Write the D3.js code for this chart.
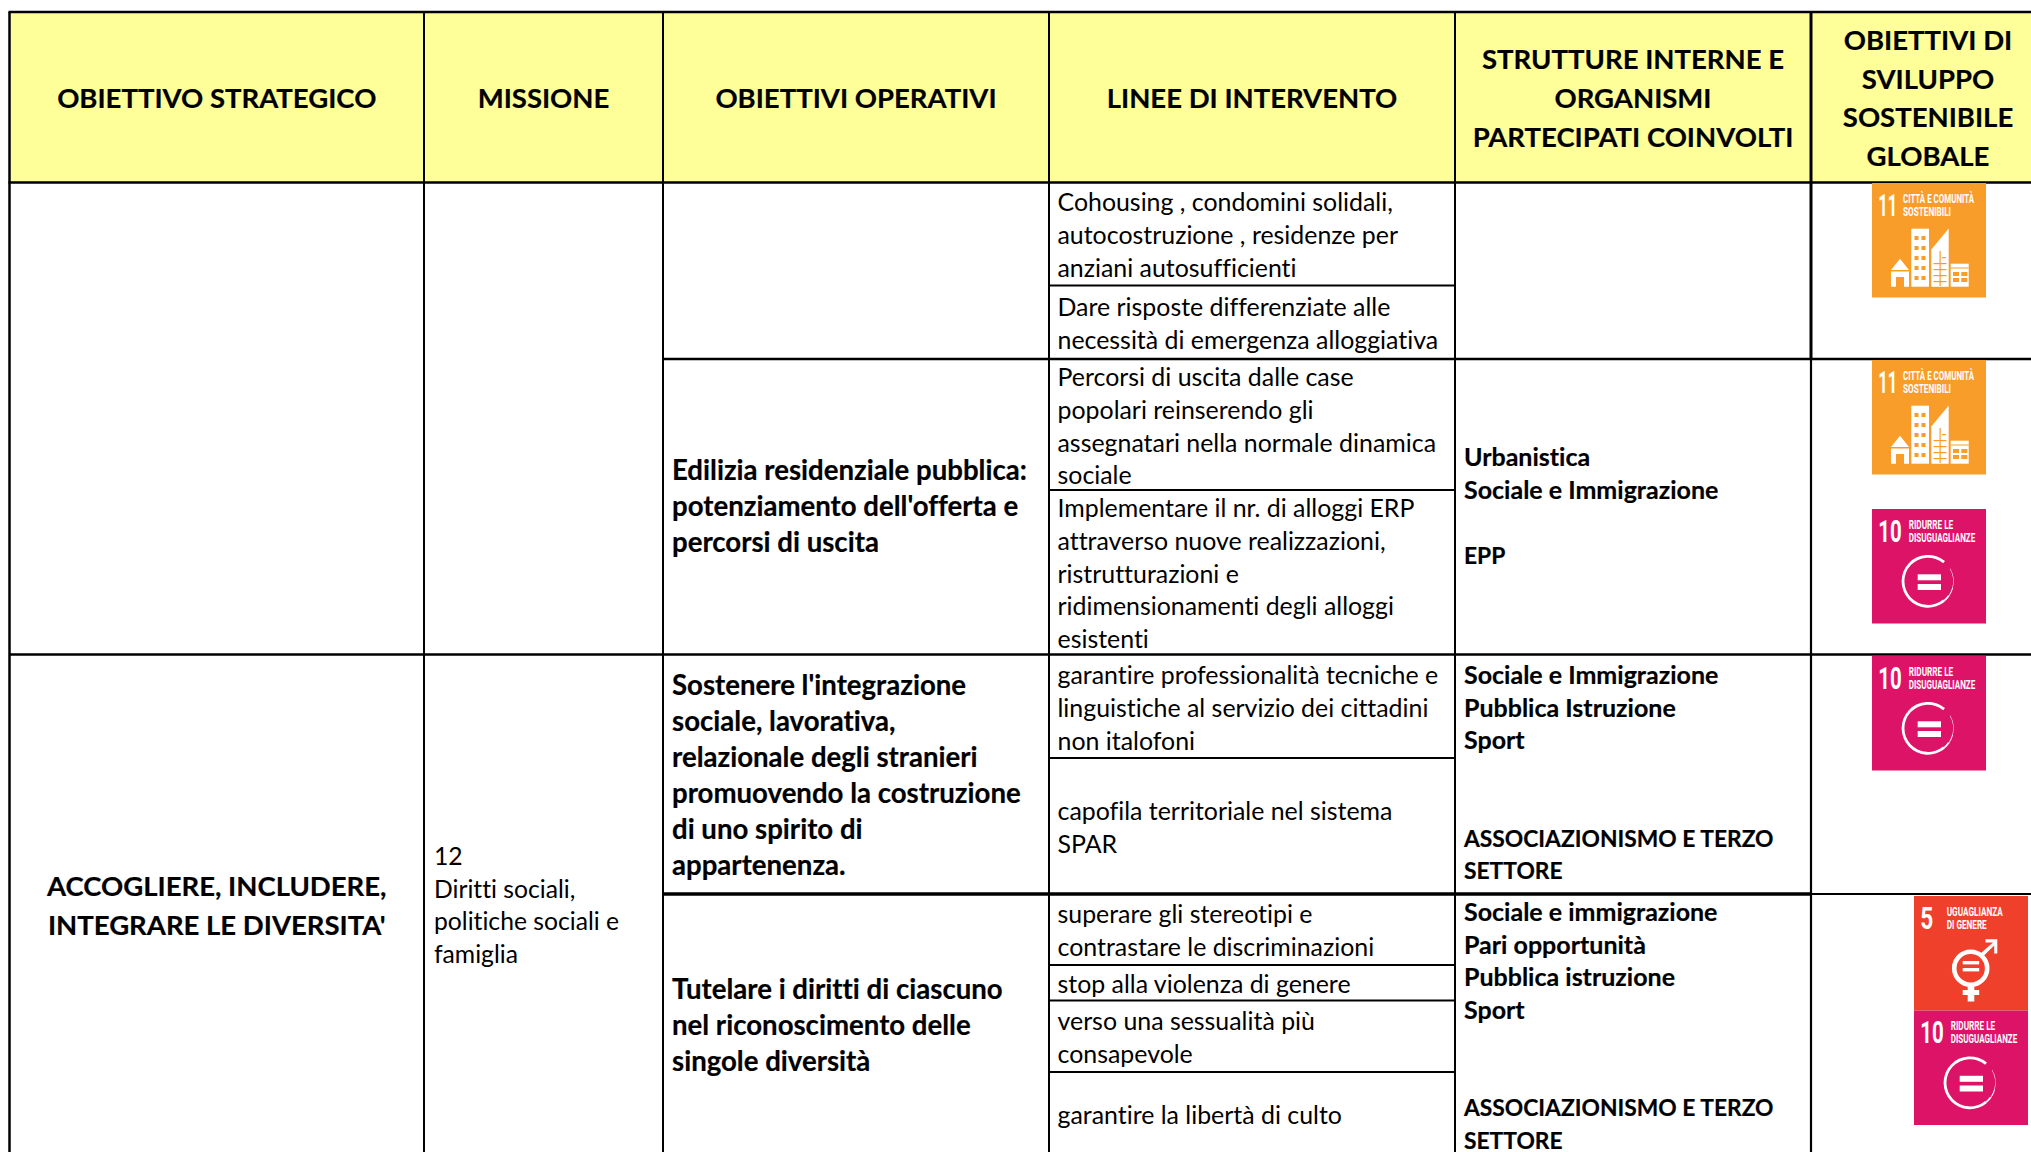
<!DOCTYPE html>
<html>
<head>
<meta charset="utf-8">
<script src="https://cdn.jsdelivr.net/npm/d3@7"></script>
<style>
html, body { margin: 0; padding: 0; background: #fff; overflow: hidden; }
svg { display: block; }
text { font-family: Lato, "Open Sans", sans-serif; fill: #000; font-variant-ligatures: none; }
.bold_text { stroke: #000; stroke-width: 0.2; }
.icon_text { font-family: Roboto, sans-serif; fill: #fff; font-weight: 700; stroke: none; }
</style>
</head>
<body>
<div class="chart_frame"></div>
<script>
// table content
var headers = [
    ['OBIETTIVO STRATEGICO'],
    ['MISSIONE'],
    ['OBIETTIVI OPERATIVI'],
    ['LINEE DI INTERVENTO'],
    ['STRUTTURE INTERNE E', 'ORGANISMI', 'PARTECIPATI COINVOLTI'],
    ['OBIETTIVI DI', 'SVILUPPO', 'SOSTENIBILE', 'GLOBALE']
];
var strategic_goal = ['ACCOGLIERE, INCLUDERE,', "INTEGRARE LE DIVERSITA'"];
var mission = ['12', 'Diritti sociali,', 'politiche sociali e', 'famiglia'];
var operative_goals = [
    ['Edilizia residenziale pubblica:', "potenziamento dell'offerta e", 'percorsi di uscita'],
    ["Sostenere l'integrazione", 'sociale, lavorativa,', 'relazionale degli stranieri', 'promuovendo la costruzione', 'di uno spirito di', 'appartenenza.'],
    ['Tutelare i diritti di ciascuno', 'nel riconoscimento delle', 'singole diversità']
];
var intervention_lines = [
    ['Cohousing , condomini solidali,', 'autocostruzione , residenze per', 'anziani autosufficienti'],
    ['Dare risposte differenziate alle', 'necessità di emergenza alloggiativa'],
    ['Percorsi di uscita dalle case', 'popolari reinserendo gli', 'assegnatari nella normale dinamica', 'sociale'],
    ['Implementare il nr. di alloggi ERP', 'attraverso nuove realizzazioni,', 'ristrutturazioni e', 'ridimensionamenti degli alloggi', 'esistenti'],
    ['garantire professionalità tecniche e', 'linguistiche al servizio dei cittadini', 'non italofoni'],
    ['capofila territoriale nel sistema', 'SPAR'],
    ['superare gli stereotipi e', 'contrastare le discriminazioni'],
    ['stop alla violenza di genere'],
    ['verso una sessualità più', 'consapevole'],
    ['garantire la libertà di culto']
];
var structures = [
    ['Urbanistica', 'Sociale e Immigrazione', '', 'EPP'],
    ['Sociale e Immigrazione', 'Pubblica Istruzione', 'Sport', '', '', 'ASSOCIAZIONISMO E TERZO', 'SETTORE'],
    ['Sociale e immigrazione', 'Pari opportunità', 'Pubblica istruzione', 'Sport', '', '', 'ASSOCIAZIONISMO E TERZO', 'SETTORE']
];
var sdg_goals = [
    {'goal': 11, 'number': '11', 'title': ['CITTÀ E COMUNITÀ', 'SOSTENIBILI']},
    {'goal': 11, 'number': '11', 'title': ['CITTÀ E COMUNITÀ', 'SOSTENIBILI']},
    {'goal': 10, 'number': '10', 'title': ['RIDURRE LE', 'DISUGUAGLIANZE']},
    {'goal': 10, 'number': '10', 'title': ['RIDURRE LE', 'DISUGUAGLIANZE']},
    {'goal': 5, 'number': '5', 'title': ['UGUAGLIANZA', 'DI GENERE']},
    {'goal': 10, 'number': '10', 'title': ['RIDURRE LE', 'DISUGUAGLIANZE']}
];

// page and grid layout, in pixels
var width = 2031, height = 1152;
var col_x = [9.5, 424, 663, 1049, 1455, 1811, 2045];
var header_y = [12, 182.5];
var row_y = [359, 654.5, 894];
var sub_row_y = [285.5, 490, 758, 965, 1000.5, 1072];

var color = {'header': '#ffff99', 'line': '#000', '11': '#f99d2a', '10': '#dd1367', '5': '#ef402b'};

var svg = d3.select('.chart_frame').append('svg')
    .attr('width', width)
    .attr('height', height);

// header background
svg.append('rect')
    .attr('x', col_x[0]).attr('y', header_y[0])
    .attr('width', width - col_x[0]).attr('height', header_y[1] - header_y[0])
    .attr('fill', color.header);

// grid lines: [x1, y1, x2, y2, stroke width]
var grid_lines = [
    [col_x[0] - 1, header_y[0], width, header_y[0], 2.5],
    [col_x[0] - 1, header_y[1], width, header_y[1], 2.5],
    [col_x[2], row_y[0], width, row_y[0], 2.5],
    [col_x[0], row_y[1], width, row_y[1], 2.5],
    [col_x[2], row_y[2], col_x[5], row_y[2], 3.5],
    [col_x[5], row_y[2], width, row_y[2], 2]
];
sub_row_y.forEach(function(y) {
    grid_lines.push([col_x[3], y, col_x[4], y, 2]);
});
col_x.slice(0, 6).forEach(function(x, i) {
    var w = i == 0 ? 2.5 : 2;
    if (i == 5) {
        grid_lines.push([x, header_y[0], x, row_y[0], 3]);
        grid_lines.push([x, row_y[0], x, height, 2.2]);
    } else {
        grid_lines.push([x, header_y[0], x, height, w]);
    }
});
svg.append('g').attr('class', 'grid').selectAll('line')
    .data(grid_lines)
    .join('line')
    .attr('x1', function(d) { return d[0]; })
    .attr('y1', function(d) { return d[1]; })
    .attr('x2', function(d) { return d[2]; })
    .attr('y2', function(d) { return d[3]; })
    .attr('stroke', color.line)
    .attr('stroke-width', function(d) { return d[4]; });

// one block of text, y is the centre of the first line
function draw_block(lines, x, y, size, line_height, weight, anchor, caps_size) {
    svg.append('g').selectAll('text')
        .data(lines)
        .join('text')
        .attr('class', weight == 700 ? 'bold_text' : 'plain_text')
        .attr('x', x)
        .attr('y', function(d, i) { return y + i * line_height + size * 0.34; })
        .attr('font-size', function(d) {
            return caps_size && d == d.toUpperCase() ? caps_size : size;
        })
        .attr('font-weight', weight)
        .attr('text-anchor', anchor)
        .text(function(d) { return d; });
}

// headers
var header_size = 27.5, header_lh = 38.9;
var header_mid = (header_y[0] + header_y[1]) / 2 + 1.4;
headers.forEach(function(lines, i) {
    var cx = (col_x[i] + col_x[i + 1]) / 2;
    draw_block(lines, cx, header_mid - (lines.length - 1) * header_lh / 2, header_size, header_lh, 700, 'middle');
});

// first two columns
draw_block(strategic_goal, (col_x[0] + col_x[1]) / 2, 886.5, 27.5, 38.9, 700, 'middle');
draw_block(mission, 434, 856.7, 24.7, 32.6, 400, 'start');

// operative goals
var goal_y = [470.8, 685.5, 989.8];
operative_goals.forEach(function(lines, i) {
    draw_block(lines, 672, goal_y[i], 27.6, 36, 700, 'start');
});

// intervention lines
var line_y = [202.8, 307.8, 377.6, 508.6, 675.8, 811.7, 914.6, 984.6, 1021.6, 1115.6];
intervention_lines.forEach(function(lines, i) {
    draw_block(lines, 1057.5, line_y[i], 24.9, 32.8, 400, 'start');
});

// structures
var structure_y = [457.5, 675.6, 912.5];
structures.forEach(function(lines, i) {
    draw_block(lines, 1464, structure_y[i], 25, 32.5, 700, 'start', 22.8);
});

// SDG icons, drawn in a 114 unit square
var icon_x = d3.scaleOrdinal([0, 1, 2, 3, 4, 5], [1872, 1872, 1872, 1872, 1914, 1914]);
var icon_y = d3.scaleOrdinal([0, 1, 2, 3, 4, 5], [183, 360, 509, 656, 896, 1010.5]);

function draw_city(g, bg) {
    var fg = '#fff';
    // house
    g.append('path').attr('fill', fg)
        .attr('d', 'M19 87 L28 75.7 L37 87 Z M19 88.5 H37 V103.7 H32 V94 H24 V103.7 H19 Z');
    // tower
    g.append('rect').attr('x', 39.3).attr('y', 45.7).attr('width', 17.7).attr('height', 58).attr('fill', fg);
    d3.range(5).forEach(function(r) {
        [42.5, 49.5].forEach(function(x) {
            g.append('rect').attr('x', x).attr('y', 53 + r * 10).attr('width', 4).attr('height', 4).attr('fill', bg);
        });
    });
    // slanted block
    g.append('path').attr('fill', fg).attr('d', 'M59.3 66.5 L76.7 45.5 V103.7 H59.3 Z');
    [74, 80, 86, 92, 98].forEach(function(y, i) {
        g.append('rect').attr('x', i == 0 ? 70 : 61.5).attr('y', y).attr('width', i == 0 ? 4 : 13).attr('height', 1.2).attr('fill', bg);
    });
    g.append('rect').attr('x', 67.5).attr('y', 68).attr('width', 1.2).attr('height', 35).attr('fill', bg);
    // low block
    g.append('rect').attr('x', 78.7).attr('y', 80.7).attr('width', 18).attr('height', 23).attr('fill', fg);
    g.append('rect').attr('x', 78.7).attr('y', 84.5).attr('width', 18).attr('height', 1).attr('fill', bg);
    [81, 89.3].forEach(function(x) {
        [89, 95].forEach(function(y) {
            g.append('rect').attr('x', x).attr('y', y).attr('width', 6).attr('height', 4).attr('fill', bg);
        });
    });
}

function draw_equality(g) {
    var arc = d3.arc();
    // ring that gets thinner towards its end on the right
    var segments = [
        [-220, 40, 23.6, 26.4],
        [60, 105, 25.2, 25.7],
        [105, 125, 25, 26],
        [125, 140, 24.4, 26.2]
    ];
    g.append('g').attr('transform', 'translate(56,72.3)').selectAll('path')
        .data(segments)
        .join('path')
        .attr('fill', '#fff')
        .attr('d', function(d) {
            return arc({'startAngle': d[0] * Math.PI / 180, 'endAngle': d[1] * Math.PI / 180, 'innerRadius': d[2], 'outerRadius': d[3]});
        });
    g.append('rect').attr('x', 45.7).attr('y', 65.3).attr('width', 23.3).attr('height', 6).attr('fill', '#fff');
    g.append('rect').attr('x', 45.7).attr('y', 75).attr('width', 23.3).attr('height', 6).attr('fill', '#fff');
}

function draw_gender(g) {
    var cx = 56.7, cy = 72.3;
    g.append('circle').attr('cx', cx).attr('cy', cy).attr('r', 16.5)
        .attr('fill', 'none').attr('stroke', '#fff').attr('stroke-width', 4.6);
    g.append('rect').attr('x', 48.7).attr('y', 65).attr('width', 16.5).attr('height', 3.4).attr('fill', '#fff');
    g.append('rect').attr('x', 48.7).attr('y', 72).attr('width', 16.5).attr('height', 3.4).attr('fill', '#fff');
    // female cross
    g.append('rect').attr('x', 53.7).attr('y', 90).attr('width', 6.6).attr('height', 15.5).attr('fill', '#fff');
    g.append('rect').attr('x', 48.7).attr('y', 94).attr('width', 16.5).attr('height', 5).attr('fill', '#fff');
    // male arrow
    g.append('path').attr('fill', '#fff')
        .attr('d', 'M67 57 L79 46.5 L71.5 46.5 L71.5 43.3 L83.3 43.3 L83.3 57.5 L80.2 57.5 L80.2 49.5 L69.5 60 Z');
}

var icons = svg.append('g').attr('class', 'icons').selectAll('g')
    .data(sdg_goals)
    .join('g')
    .attr('transform', function(d, i) { return 'translate(' + icon_x(i) + ',' + icon_y(i) + ')'; });

icons.each(function(d) {
    var g = d3.select(this);
    var bg = color[d.goal];
    g.append('rect').attr('width', 114).attr('height', 114.5).attr('fill', bg);

    var number_len = d.goal == 11 ? 19 : d.goal == 10 ? 23.5 : 13;
    var title_x = d.goal == 11 ? 31 : d.goal == 10 ? 36.7 : 32.7;
    var title_len = {
        '11': [71, 48],
        '10': [44.5, 66.5],
        '5': [56, 40]
    }[d.goal];

    g.append('text').attr('class', 'icon_text')
        .attr('x', 6.3).attr('y', 32.8)
        .attr('font-size', 32)
        .attr('textLength', number_len).attr('lengthAdjust', 'spacingAndGlyphs')
        .text(d.number);
    g.selectAll('.title')
        .data(d.title)
        .join('text')
        .attr('class', 'icon_text title')
        .attr('x', title_x)
        .attr('y', function(t, i) { return i == 0 ? 19.6 : 32.8; })
        .attr('font-size', 12.8)
        .attr('textLength', function(t, i) { return title_len[i]; })
        .attr('lengthAdjust', 'spacingAndGlyphs')
        .text(function(t) { return t; });

    if (d.goal == 11) draw_city(g, bg);
    else if (d.goal == 10) draw_equality(g);
    else draw_gender(g);
});
</script>
</body>
</html>
